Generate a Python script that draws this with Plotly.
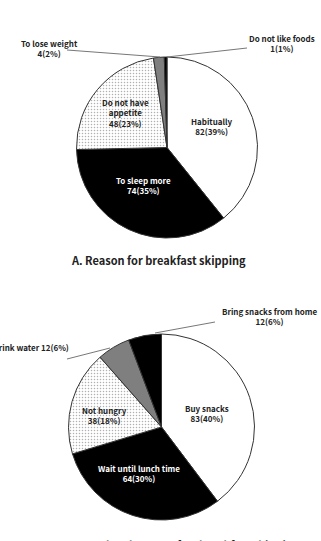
import plotly.graph_objects as go

W, H = 321, 541

# ---- data ----
a_labels = ["Habitually", "To sleep more", "Do not have<br>appetite", "To lose weight", "Do not like foods"]
a_values = [82, 74, 48, 4, 1]
a_pct = ["39%", "35%", "23%", "2%", "1%"]

b_labels = ["Buy snacks", "Wait until lunch time", "Not hungry", "Drink water", "Bring snacks from home"]
b_values = [83, 64, 38, 12, 12]
b_pct = ["40%", "30%", "18%", "6%", "6%"]

titles = ["A. Reason for breakfast skipping",
          "B. How to solve when hungry after breakfast skipping"]

FONT = "Noto Sans CJK KR"
slice_colors = ["white", "black", "white", "#7f7f7f", "black"]
pattern_shapes = ["", "", ".", "", ""]
text_colors = ["#222", "white", "#222", "#222", "#222"]


def px(x, y):
    return x / W, 1 - y / H


def pie(labels, values, cx, cy, r):
    x0, y1 = px(cx - r, cy - r)
    x1, y0 = px(cx + r, cy + r)
    return go.Pie(
        labels=labels, values=values, sort=False, direction="clockwise",
        rotation=0, textinfo="none",
        marker=dict(colors=slice_colors,
                    line=dict(color="#333", width=1),
                    pattern=dict(shape=pattern_shapes, fgcolor="#b0b0b0",
                                 bgcolor="white", size=3, solidity=0.2)),
        domain=dict(x=[x0, x1], y=[y0, y1]),
        showlegend=False, hoverinfo="label+value",
    )


fig = go.Figure()
fig.add_trace(pie(a_labels, a_values, 167, 147.5, 90.5))
fig.add_trace(pie(b_labels, b_values, 161.5, 427, 93))

annotations = []
shapes = []


def ann(text, x, y, align="center", xanchor="center", size=8, color="#222"):
    xx, yy = px(x, y)
    annotations.append(dict(text=text, x=xx, y=yy, xref="paper", yref="paper",
                            showarrow=False, align=align, xanchor=xanchor,
                            yanchor="middle",
                            font=dict(family=FONT, size=size, color=color)))


def line(xa, ya, xb, yb):
    p0 = px(xa, ya)
    p1 = px(xb, yb)
    shapes.append(dict(type="line", xref="paper", yref="paper",
                       x0=p0[0], y0=p0[1], x1=p1[0], y1=p1[1],
                       line=dict(color="#777", width=1)))


def lab(labels, values, pct, i, sep="<br>"):
    return f"<b>{labels[i]}{sep}{values[i]}({pct[i]})</b>"


# inside labels (pie A)
ann(lab(a_labels, a_values, a_pct, 0), 212, 127)
ann(lab(a_labels, a_values, a_pct, 1), 143, 185, color="white")
ann(lab(a_labels, a_values, a_pct, 2), 125, 113)
# inside labels (pie B)
ann(lab(b_labels, b_values, b_pct, 0), 207, 413)
ann(lab(b_labels, b_values, b_pct, 1), 139, 473, color="white")
ann(lab(b_labels, b_values, b_pct, 2), 104, 415)

# outside labels with leader lines
ann(lab(a_labels, a_values, a_pct, 3), 49, 48)
line(67, 50, 160, 57)
ann(lab(a_labels, a_values, a_pct, 4), 282, 43)
line(247, 48, 167, 57)

ann(lab(b_labels, b_values, b_pct, 4), 269, 316)
line(215, 322, 155, 333)
ann(lab(b_labels, b_values, b_pct, 3, sep=" "), 71, 347, xanchor="right")
line(67, 359, 110, 348)

# titles
ann(f"<b>{titles[0]}</b>", 158, 260, size=11)
ann(f"<b>{titles[1]}</b>", 155, 545, size=11)

fig.update_layout(width=W, height=H, margin=dict(l=0, r=0, t=0, b=0),
                  paper_bgcolor="white", plot_bgcolor="white",
                  annotations=annotations, shapes=shapes)

fig.write_html("out.html")
